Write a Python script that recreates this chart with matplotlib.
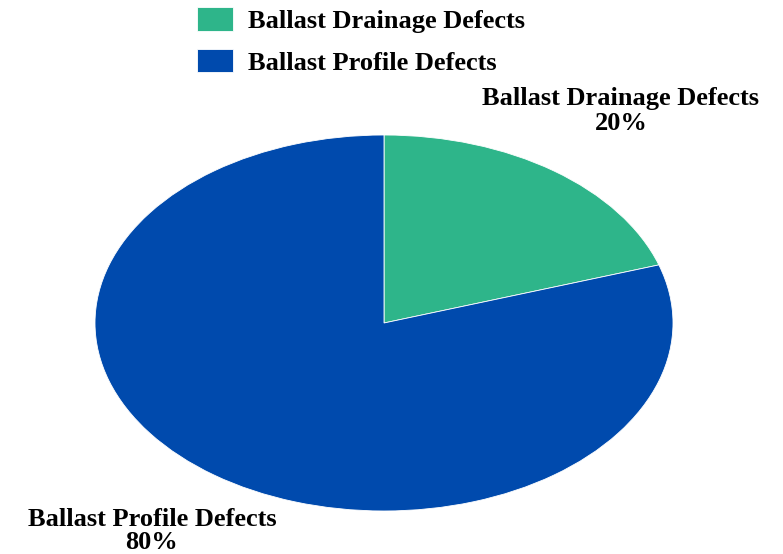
import matplotlib.pyplot as plt

labels = ["Ballast Drainage Defects", "Ballast Profile Defects"]
values = [20, 80]
colors = ["#2eb58a", "#004aad"]

plt.rcParams["font.family"] = ["Liberation Serif", "DejaVu Serif"]

fig = plt.figure(figsize=(7.83, 5.54), dpi=100)
ax = fig.add_axes([95 / 783, 43 / 554, 578 / 783, 376 / 554])

wedges, _ = ax.pie(values, colors=colors, startangle=90, counterclock=False,
                   radius=1, wedgeprops=dict(edgecolor="white", linewidth=0.6))
ax.set_aspect("auto")
ax.set_xlim(-1, 1)
ax.set_ylim(-1, 1)

fs = 19
# slice labels with percentage
fig.text(621 / 783, 1 - 111 / 554, f"{labels[0]}\n{values[0]}%", ha="center", va="center",
         fontsize=fs, fontweight="bold", linespacing=1.1)
fig.text(152 / 783, 1 - 531 / 554, f"{labels[1]}\n{values[1]}%", ha="center", va="center",
         fontsize=fs, fontweight="bold", linespacing=1.05)

leg = fig.legend(wedges, labels, loc="upper left", bbox_to_anchor=(197 / 783, 1 - 7 / 554),
                 frameon=False, prop=dict(weight="bold", size=fs), borderpad=0, borderaxespad=0,
                 handlelength=1.36, handleheight=1.0, labelspacing=0.6, handletextpad=0.57)

fig.savefig("out.png", dpi=100)
